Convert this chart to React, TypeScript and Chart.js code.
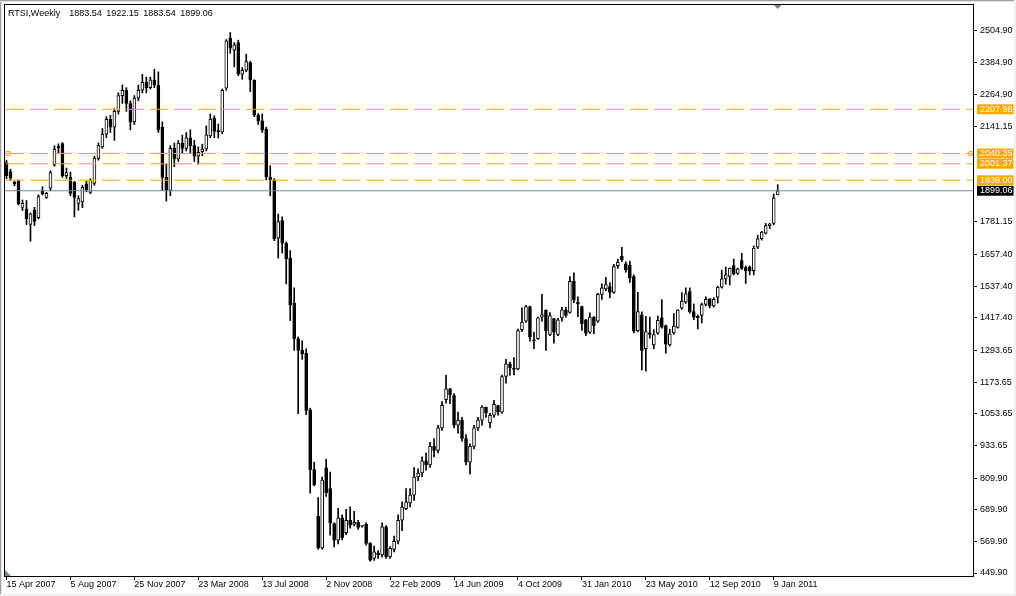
import React, { useEffect, useRef } from "react";
import { Chart, registerables } from "chart.js";

Chart.register(...registerables);

// ---------- data (weekly RTSI, one entry per bar) ----------
const openP = [
  2005, 1972, 1931, 1937, 1836, 1831, 1771, 1826, 1797, 1897,
  1874, 1909, 1997, 2067, 2078, 1956, 1950, 1931, 1851, 1857,
  1925, 1893, 1927, 2022, 2065, 2114, 2170, 2140, 2200, 2260,
  2280, 2230, 2160, 2250, 2280, 2310, 2290, 2320, 2300, 2140,
  1950, 1900, 2060, 2020, 2080, 2060, 2100, 2070, 2030, 2047,
  2057, 2107, 2175, 2127, 2122, 2288, 2477, 2432, 2461, 2341,
  2356, 2385, 2318, 2186, 2164, 2133, 1950, 1940, 1719, 1786,
  1700, 1643, 1473, 1338, 1294, 1283, 1069, 842, 665, 545,
  849, 770, 637, 574, 659, 603, 650, 634, 642, 627,
  634, 562, 505, 525, 518, 625, 511, 539, 571, 650,
  694, 716, 745, 814, 829, 875, 860, 930, 915, 1000,
  1107, 1148, 1123, 1010, 1030, 960, 870, 930, 1000, 1029,
  1079, 1020, 1048, 1085, 1060, 1195, 1243, 1226, 1224, 1372,
  1405, 1460, 1334, 1338, 1420, 1447, 1354, 1414, 1354, 1417,
  1448, 1438, 1556, 1477, 1460, 1410, 1363, 1420, 1405, 1506,
  1527, 1536, 1514, 1615, 1650, 1622, 1616, 1574, 1368, 1429,
  1300, 1360, 1315, 1359, 1417, 1388, 1315, 1360, 1381, 1454,
  1477, 1517, 1441, 1423, 1426, 1468, 1489, 1462, 1496, 1534,
  1565, 1574, 1615, 1586, 1634, 1608, 1611, 1596, 1685, 1717,
  1738, 1767, 1775, 1883.54,
];
const highP = [
  2015, 1981, 1935, 1940, 1864, 1862, 1815, 1836, 1884, 1914,
  1893, 1975, 2070, 2077, 2082, 1985, 1970, 1935, 1880, 1920,
  1935, 1945, 2030, 2080, 2135, 2180, 2185, 2210, 2270, 2300,
  2290, 2240, 2260, 2300, 2340, 2330, 2330, 2360, 2350, 2160,
  2000, 2070, 2080, 2090, 2110, 2120, 2130, 2090, 2065, 2076,
  2145, 2190, 2183, 2152, 2285, 2472, 2499, 2461, 2470, 2366,
  2417, 2390, 2320, 2192, 2190, 2140, 1994, 1945, 1811, 1800,
  1705, 1672, 1531, 1345, 1330, 1300, 1075, 870, 736, 814,
  881, 833, 640, 695, 670, 691, 701, 684, 650, 630,
  640, 565, 552, 535, 640, 630, 550, 590, 670, 720,
  770, 770, 850, 845, 890, 905, 945, 960, 1010, 1100,
  1199, 1150, 1130, 1060, 1040, 975, 940, 1010, 1040, 1085,
  1079, 1055, 1105, 1086, 1200, 1260, 1250, 1267, 1375, 1455,
  1465, 1462, 1363, 1420, 1506, 1448, 1437, 1415, 1415, 1457,
  1457, 1574, 1588, 1497, 1462, 1412, 1436, 1422, 1510, 1546,
  1571, 1550, 1620, 1640, 1685, 1630, 1632, 1580, 1514, 1440,
  1423, 1420, 1372, 1424, 1486, 1390, 1374, 1434, 1448, 1513,
  1531, 1531, 1470, 1428, 1473, 1497, 1490, 1494, 1537, 1598,
  1610, 1606, 1640, 1606, 1662, 1614, 1614, 1690, 1730, 1745,
  1775, 1776, 1887, 1922.15,
];
const lowP = [
  1945, 1937, 1918, 1845, 1824, 1771, 1708, 1767, 1793, 1883,
  1870, 1899, 1992, 2040, 1950, 1946, 1880, 1800, 1825, 1835,
  1895, 1888, 1920, 2015, 2060, 2100, 2120, 2090, 2190, 2230,
  2200, 2130, 2150, 2240, 2270, 2270, 2285, 2290, 2120, 1900,
  1860, 1880, 1990, 2010, 2040, 2050, 2040, 2010, 2000, 2032,
  2050, 2100, 2101, 2099, 2115, 2280, 2420, 2369, 2335, 2322,
  2350, 2275, 2180, 2150, 2120, 1940, 1880, 1710, 1644, 1663,
  1546, 1407, 1294, 1054, 1260, 1050, 753, 780, 540, 540,
  740, 593, 549, 560, 575, 595, 620, 628, 615, 624,
  555, 495, 498, 505, 510, 505, 505, 530, 560, 610,
  690, 700, 725, 800, 815, 840, 850, 890, 905, 990,
  1094, 1092, 1000, 980, 950, 860, 825, 920, 990, 1010,
  1040, 1000, 1040, 1048, 1055, 1170, 1200, 1201, 1220, 1365,
  1400, 1329, 1300, 1335, 1405, 1294, 1350, 1321, 1350, 1405,
  1420, 1435, 1475, 1422, 1370, 1350, 1358, 1357, 1400, 1487,
  1520, 1493, 1510, 1605, 1630, 1590, 1552, 1360, 1365, 1220,
  1215, 1340, 1300, 1355, 1378, 1283, 1310, 1355, 1378, 1450,
  1472, 1435, 1410, 1375, 1398, 1462, 1455, 1458, 1473, 1530,
  1545, 1542, 1580, 1582, 1600, 1548, 1580, 1580, 1680, 1712,
  1735, 1755, 1770, 1883.54,
];
const closeP = [
  1956, 1947, 1925, 1850, 1851, 1793, 1812, 1783, 1877, 1887,
  1889, 1968, 2057, 2061, 1956, 1968, 1889, 1874, 1869, 1912,
  1902, 1940, 2023, 2070, 2114, 2170, 2140, 2200, 2260, 2280,
  2230, 2160, 2250, 2280, 2310, 2290, 2320, 2300, 2130, 1950,
  1900, 2060, 2020, 2080, 2060, 2100, 2070, 2030, 2045, 2057,
  2111, 2171, 2124, 2122, 2280, 2467, 2440, 2452, 2341, 2356,
  2389, 2318, 2186, 2164, 2129, 1952, 1940, 1716, 1782, 1700,
  1641, 1466, 1338, 1294, 1281, 1066, 842, 785, 545, 802,
  754, 640, 574, 659, 584, 650, 631, 642, 623, 628,
  562, 499, 530, 518, 625, 511, 543, 570, 650, 700,
  720, 745, 814, 829, 875, 860, 930, 915, 1000, 1086,
  1148, 1126, 1010, 1030, 960, 870, 930, 1000, 1030, 1079,
  1057, 1048, 1089, 1060, 1195, 1243, 1228, 1222, 1369, 1401,
  1460, 1344, 1330, 1417, 1430, 1368, 1426, 1363, 1410, 1448,
  1426, 1556, 1485, 1470, 1395, 1359, 1420, 1388, 1506, 1531,
  1543, 1514, 1612, 1628, 1638, 1599, 1568, 1367, 1441, 1294,
  1365, 1354, 1354, 1408, 1382, 1317, 1357, 1386, 1447, 1481,
  1508, 1441, 1420, 1418, 1468, 1487, 1462, 1487, 1534, 1565,
  1580, 1606, 1584, 1603, 1605, 1596, 1594, 1682, 1717, 1742,
  1767, 1773, 1871, 1899.06,
];

const xTickLabels = [
  "15 Apr 2007", "5 Aug 2007", "25 Nov 2007", "23 Mar 2008", "13 Jul 2008",
  "2 Nov 2008", "22 Feb 2009", "14 Jun 2009", "4 Oct 2009", "31 Jan 2010",
  "23 May 2010", "12 Sep 2010", "9 Jan 2011",
];
const BARS_PER_LABEL = 16;
const yTickValues = [
  2504.9, 2384.9, 2264.9, 2141.15, 1781.15, 1657.4, 1537.4, 1417.4,
  1293.65, 1173.65, 1053.65, 933.65, 809.9, 689.9, 569.9, 449.9,
];
const levelLines = [2207.98, 2040.35, 2001.37, 1939.0];
const markedLevel = 2040.35;
const lastPrice = 1899.06;
const headerName = "RTSI,Weekly";
const headerValues = [1883.54, 1922.15, 1883.54, 1899.06];

// ---------- scale extents ----------
const X_MIN = -0.375;
const X_MAX = 241.875;
const Y_MIN = 438.55;
const Y_MAX = 2603.3;

const FONT = '"Liberation Sans", Arial, sans-serif';
const ORANGE = "#FFA500";
const BIDLINE = "#778899";

const isLevel = (v: number) => levelLines.some((l) => Math.abs(l - v) < 0.001);
const isLast = (v: number) => Math.abs(v - lastPrice) < 0.001;

const framePlugin = {
  id: "mtFrame",
  beforeDraw(chart: any) {
    const ctx = chart.ctx;
    ctx.save();
    ctx.fillStyle = "#ffffff";
    ctx.fillRect(0, 0, chart.width, chart.height);
    ctx.restore();
  },
  afterDraw(chart: any) {
    const { ctx, chartArea: a } = chart;
    ctx.save();
    // window border
    ctx.fillStyle = "#a0a0a0";
    ctx.fillRect(0, 0, chart.width, 1);
    ctx.fillRect(0, 0, 1, chart.height);
    ctx.fillStyle = "#e3e3e3";
    ctx.fillRect(0, 1, chart.width, 1);
    ctx.fillRect(1, 1, 1, chart.height);
    ctx.fillStyle = "#f0f0f0";
    ctx.fillRect(0, chart.height - 2, chart.width, 2);
    ctx.fillRect(chart.width - 2, 0, 2, chart.height);
    // plot frame
    ctx.strokeStyle = "#000000";
    ctx.lineWidth = 1;
    ctx.strokeRect(a.left - 0.5, a.top - 0.5, a.right - a.left + 1, a.bottom - a.top + 1);
    // chart-shift markers
    const xs = chart.scales.x.getPixelForValue(openP.length - 1);
    ctx.fillStyle = "#808080";
    ctx.beginPath();
    ctx.moveTo(xs - 4, a.top);
    ctx.lineTo(xs + 4, a.top);
    ctx.lineTo(xs, a.top + 4);
    ctx.closePath();
    ctx.fill();
    ctx.fillStyle = BIDLINE;
    ctx.beginPath();
    ctx.moveTo(a.left, a.bottom - 6);
    ctx.lineTo(a.left + 6, a.bottom);
    ctx.lineTo(a.left, a.bottom);
    ctx.closePath();
    ctx.fill();
    ctx.restore();
  },
};

export default function App() {
  const canvasRef = useRef<HTMLCanvasElement | null>(null);

  useEffect(() => {
    document.body.style.margin = "0";
    const canvas = canvasRef.current;
    if (!canvas) return;

    const idx = openP.map((_, i) => i);
    const bodies = idx.map((i) => ({
      x: i,
      y: [Math.min(openP[i], closeP[i]), Math.max(openP[i], closeP[i])],
    }));
    const wicks = idx.map((i) => ({ x: i, y: [lowP[i], highP[i]] }));
    const bodyColors = idx.map((i) => (closeP[i] >= openP[i] ? "#ffffff" : "#000000"));

    const lineDatasets: any[] = levelLines.map((lv) => ({
      type: "line",
      data: [
        { x: X_MIN, y: lv },
        { x: X_MAX, y: lv },
      ],
      borderColor: ORANGE,
      borderWidth: 1,
      borderDash: [18, 6],
      borderDashOffset: -1,
      pointRadius: 0,
      order: 0,
    }));

    const chart = new Chart(canvas, {
      type: "bar",
      data: {
        datasets: [
          ...lineDatasets,
          {
            type: "line",
            data: [
              { x: X_MIN, y: lastPrice },
              { x: X_MAX, y: lastPrice },
            ],
            borderColor: BIDLINE,
            borderWidth: 1,
            pointRadius: 0,
            order: 0,
          } as any,
          {
            type: "line",
            data: [
              { x: 0.375, y: markedLevel },
              { x: 241.375, y: markedLevel },
            ],
            showLine: false,
            pointStyle: "rect",
            pointRadius: 2.9,
            pointBorderWidth: 1,
            pointBorderColor: ORANGE,
            pointBackgroundColor: "#ffffff",
            order: 0,
          } as any,
          {
            type: "bar",
            data: bodies as any,
            grouped: false,
            barThickness: 3,
            minBarLength: 1,
            backgroundColor: bodyColors,
            borderColor: "#000000",
            borderWidth: 1,
            borderSkipped: false,
            order: 1,
          } as any,
          {
            type: "bar",
            data: wicks as any,
            grouped: false,
            barThickness: 1,
            backgroundColor: "#000000",
            borderWidth: 0,
            order: 2,
          } as any,
        ],
      },
      options: {
        animation: false,
        responsive: false,
        devicePixelRatio: 1,
        layout: { padding: { left: 4, top: 4, right: 0, bottom: 0 } },
        plugins: {
          legend: { display: false },
          tooltip: { enabled: false },
          title: { display: false },
        },
        events: [],
        scales: {
          x: {
            type: "linear",
            min: X_MIN,
            max: X_MAX,
            offset: false,
            position: "bottom",
            border: { display: false },
            grid: {
              offset: false,
              drawOnChartArea: false,
              drawTicks: true,
              tickLength: 4,
              color: "#000000",
            },
            afterBuildTicks: (scale: any) => {
              scale.ticks = xTickLabels.map((_, k) => ({ value: k * BARS_PER_LABEL }));
            },
            afterFit: (scale: any) => {
              scale.height = 20;
              scale.paddingLeft = 0;
              scale.paddingRight = 0;
            },
            ticks: {
              autoSkip: false,
              maxRotation: 0,
              minRotation: 0,
              align: "start",
              padding: 0,
              color: "#000000",
              font: { family: FONT, size: 9, lineHeight: 1.1 },
              callback: (_v: any, i: number) => xTickLabels[i],
            },
          },
          y: {
            type: "linear",
            position: "right",
            min: Y_MIN,
            max: Y_MAX,
            border: { display: false },
            grid: {
              drawOnChartArea: false,
              drawTicks: true,
              tickLength: 4,
              color: (c: any) =>
                c.tick && (isLevel(c.tick.value) || isLast(c.tick.value)) ? "rgba(0,0,0,0)" : "#000000",
            },
            afterBuildTicks: (scale: any) => {
              scale.ticks = [...yTickValues, ...levelLines, lastPrice].map((v) => ({ value: v }));
            },
            afterFit: (scale: any) => {
              scale.width = 43;
              scale.paddingTop = 0;
              scale.paddingBottom = 0;
            },
            ticks: {
              autoSkip: false,
              padding: 3,
              font: { family: FONT, size: 9, lineHeight: 1.1 },
              color: (c: any) =>
                c.tick && (isLevel(c.tick.value) || isLast(c.tick.value)) ? "#ffffff" : "#000000",
              showLabelBackdrop: true,
              backdropPadding: { left: 3, right: 1, top: 0, bottom: 0 },
              backdropColor: (c: any) => {
                if (!c.tick) return "rgba(0,0,0,0)";
                if (isLast(c.tick.value)) return "#000000";
                if (isLevel(c.tick.value)) return ORANGE;
                return "rgba(0,0,0,0)";
              },
              callback: (v: any) => Number(v).toFixed(2),
            },
          },
        },
      } as any,
      plugins: [framePlugin],
    });

    return () => {
      chart.destroy();
    };
  }, []);

  return (
    <div style={{ position: "relative", width: 1016, height: 596, background: "#ffffff" }}>
      <canvas ref={canvasRef} width={1016} height={596} style={{ display: "block", width: 1016, height: 596 }} />
      <div
        style={{
          position: "absolute",
          left: 8,
          top: 8,
          fontFamily: FONT,
          fontSize: 9,
          lineHeight: "11px",
          color: "#000000",
          whiteSpace: "pre",
          wordSpacing: 2,
        }}
      >
        {headerName + "  " + headerValues.map((v) => v.toFixed(2)).join(" ")}
      </div>
    </div>
  );
}
